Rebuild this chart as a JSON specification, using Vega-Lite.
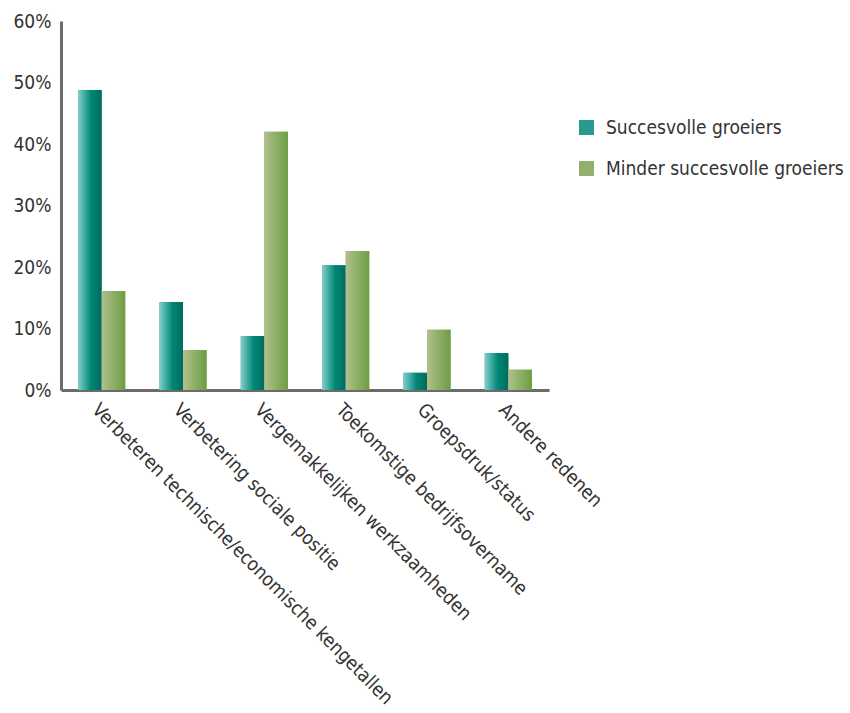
{
  "$schema": "https://vega.github.io/schema/vega-lite/v6.json",
  "width": 488,
  "height": 369,
  "autosize": "none",
  "padding": {"left": 61, "top": 21, "right": 301, "bottom": 323},
  "background": "white",
  "config": {"view": {"stroke": null}, "font": "DejaVu Sans Condensed"},
  "data": {"values": [
    {"reden": "Verbeteren technische/economische kengetallen", "groep": "Succesvolle groeiers", "pct": 48.8},
    {"reden": "Verbeteren technische/economische kengetallen", "groep": "Minder succesvolle groeiers", "pct": 16.1},
    {"reden": "Verbetering sociale positie", "groep": "Succesvolle groeiers", "pct": 14.3},
    {"reden": "Verbetering sociale positie", "groep": "Minder succesvolle groeiers", "pct": 6.5},
    {"reden": "Vergemakkelijken werkzaamheden", "groep": "Succesvolle groeiers", "pct": 8.8},
    {"reden": "Vergemakkelijken werkzaamheden", "groep": "Minder succesvolle groeiers", "pct": 42.0},
    {"reden": "Toekomstige bedrijfsovername", "groep": "Succesvolle groeiers", "pct": 20.3},
    {"reden": "Toekomstige bedrijfsovername", "groep": "Minder succesvolle groeiers", "pct": 22.6},
    {"reden": "Groepsdruk/status", "groep": "Succesvolle groeiers", "pct": 2.8},
    {"reden": "Groepsdruk/status", "groep": "Minder succesvolle groeiers", "pct": 9.8},
    {"reden": "Andere redenen", "groep": "Succesvolle groeiers", "pct": 6.0},
    {"reden": "Andere redenen", "groep": "Minder succesvolle groeiers", "pct": 3.3}
  ]},
  "encoding": {
    "x": {
      "field": "reden", "type": "nominal", "sort": null,
      "scale": {"paddingInner": 0.42, "paddingOuter": 0.21},
      "axis": {
        "title": null, "labelAngle": 45, "labelAlign": "left", "labelBaseline": "top",
        "labelFontSize": 19, "labelColor": "#333333", "labelLimit": 1000,
        "labelPadding": 10, "ticks": false, "domainColor": "#6b6b6b", "domainWidth": 3
      }
    },
    "xOffset": {"field": "groep", "type": "nominal", "sort": null, "scale": {"paddingInner": 0, "paddingOuter": 0}},
    "y": {
      "field": "pct", "type": "quantitative",
      "scale": {"domain": [0, 60], "nice": false},
      "axis": {
        "title": null, "values": [0, 10, 20, 30, 40, 50, 60], "labelExpr": "datum.value + '%'",
        "labelFontSize": 19, "labelColor": "#333333", "labelPadding": 10, "ticks": false,
        "grid": false, "domainColor": "#6b6b6b", "domainWidth": 3
      }
    }
  },
  "layer": [
    {
      "mark": {"type": "bar"},
      "encoding": {
        "color": {
          "field": "groep", "type": "nominal", "sort": null,
          "scale": {
            "domain": ["Succesvolle groeiers", "Minder succesvolle groeiers"],
            "range": ["#2a9a90", "#92b06c"]
          },
          "legend": {
            "orient": "none", "legendX": 516, "legendY": 97, "title": null,
            "symbolType": "square", "symbolSize": 225, "symbolStrokeWidth": 0,
            "labelFontSize": 19, "labelColor": "#333333", "labelOffset": 10,
            "rowPadding": 21, "labelLimit": 400
          }
        }
      }
    },
    {
      "mark": {"type": "bar"},
      "encoding": {
        "fill": {
          "condition": {
            "test": "datum.groep === 'Succesvolle groeiers'",
            "value": {"gradient": "linear", "x1": 0, "y1": 0, "x2": 1, "y2": 0, "stops": [
              {"offset": 0, "color": "#82cfcc"}, {"offset": 0.55, "color": "#008676"}, {"offset": 1, "color": "#006b5d"}]}
          },
          "value": {"gradient": "linear", "x1": 0, "y1": 0, "x2": 1, "y2": 0, "stops": [
            {"offset": 0, "color": "#b0c08e"}, {"offset": 1, "color": "#6c9e42"}]}
        }
      }
    }
  ]
}
